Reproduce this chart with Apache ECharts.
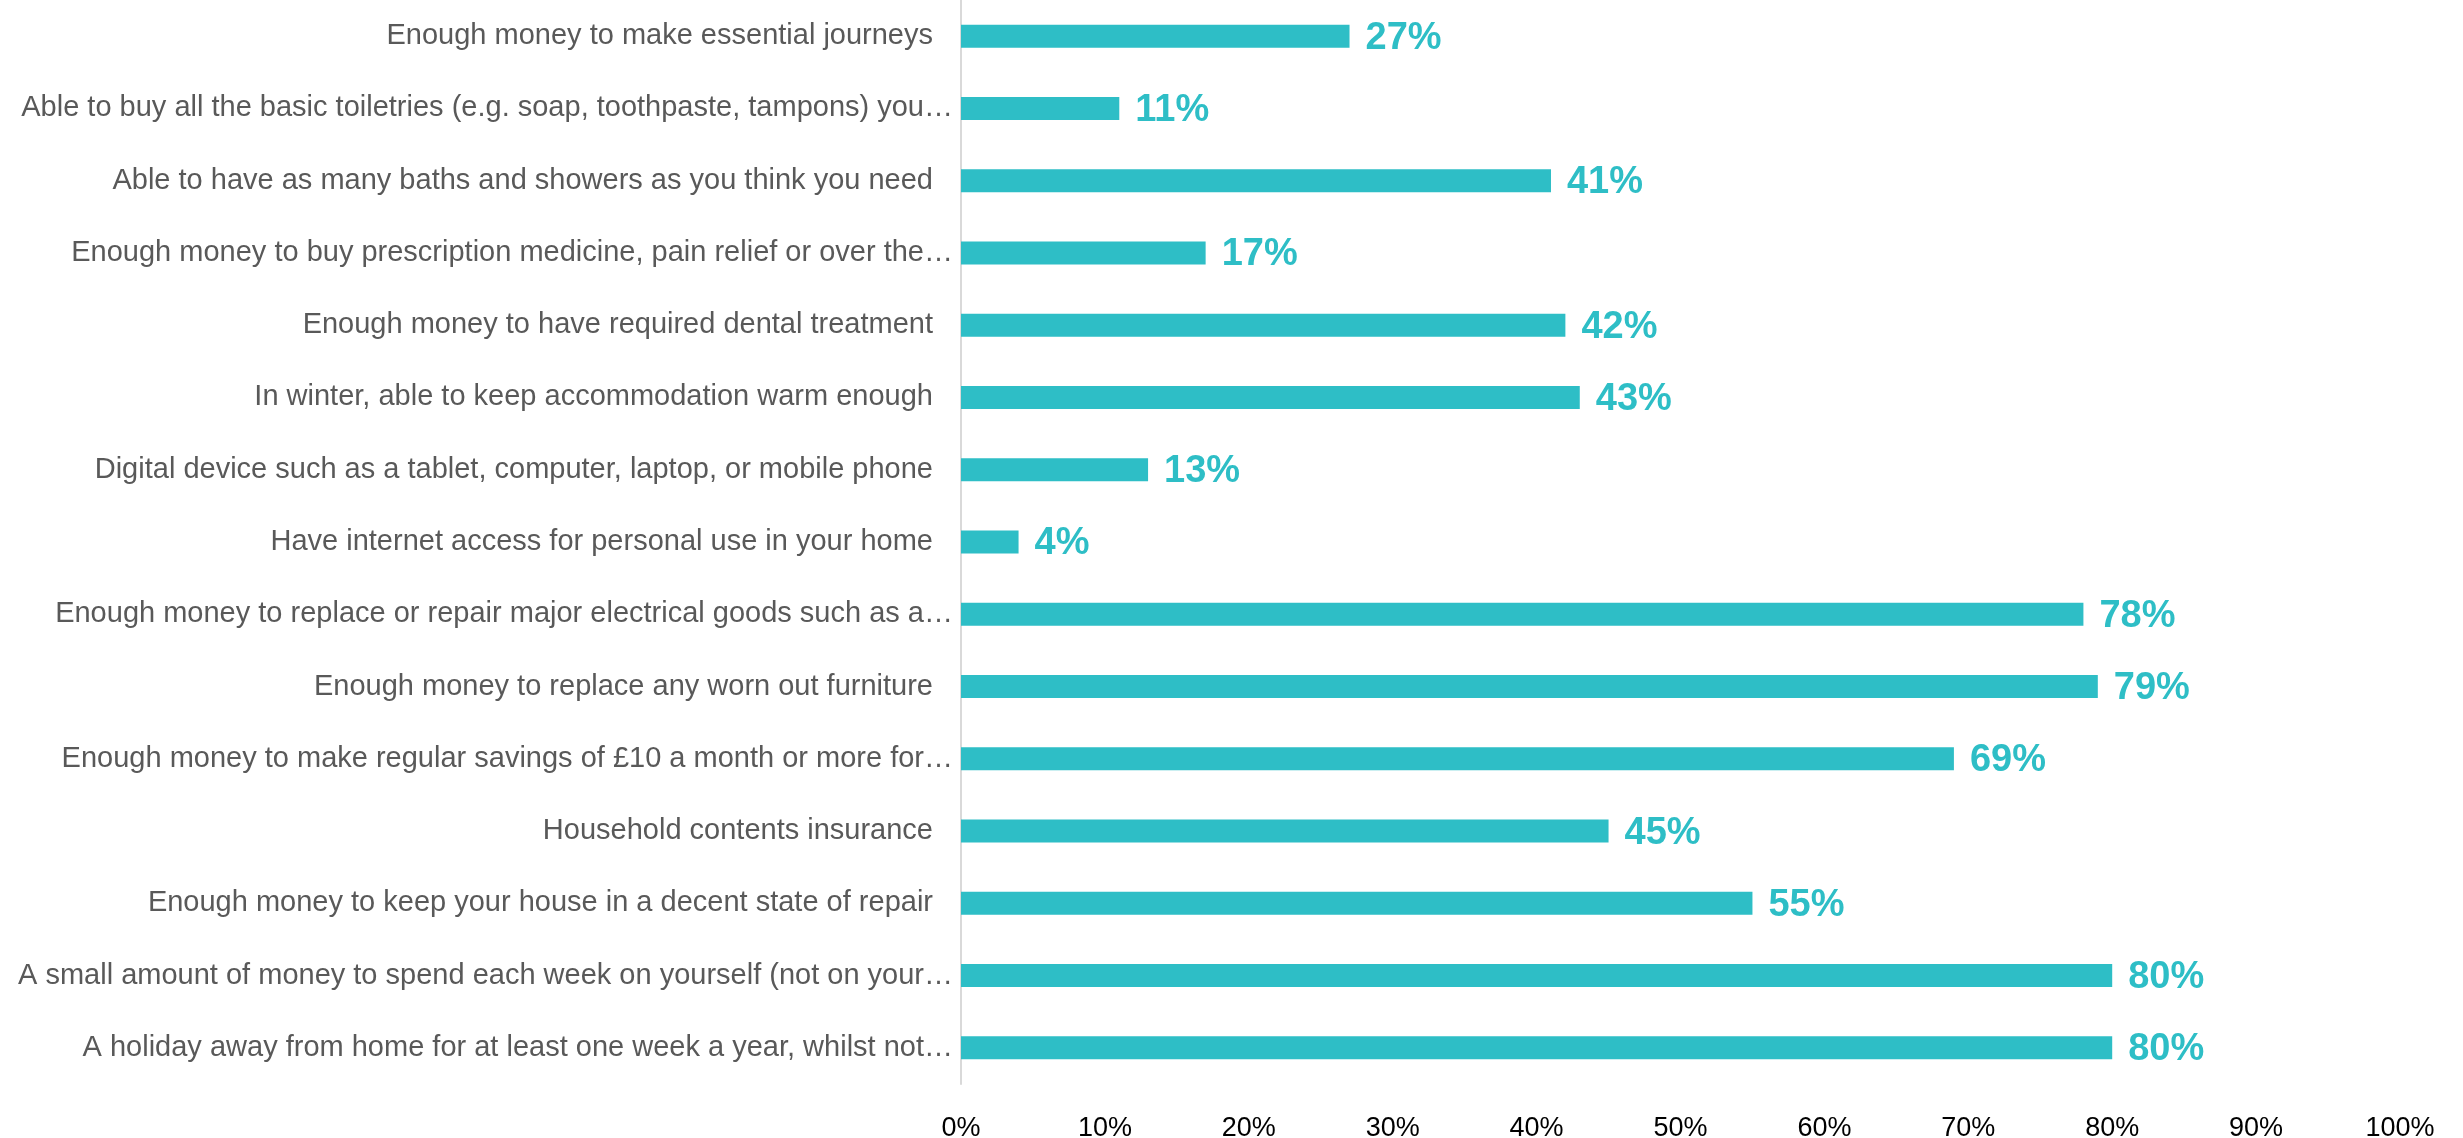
<!DOCTYPE html>
<html>
<head>
<meta charset="utf-8">
<script src="https://cdn.jsdelivr.net/npm/echarts@6/dist/echarts.min.js"></script>
<style>
  html, body { margin: 0; padding: 0; background: #ffffff; }
  #chart { width: 2463px; height: 1138px; }
</style>
</head>
<body>
<div id="chart"></div>
<script>
// Items listed top to bottom
const categories = [
  'Enough money to make essential journeys',
  'Able to buy all the basic toiletries (e.g. soap, toothpaste, tampons) you…',
  'Able to have as many baths and showers as you think you need',
  'Enough money to buy prescription medicine, pain relief or over the…',
  'Enough money to have required dental treatment',
  'In winter, able to keep accommodation warm enough',
  'Digital device such as a tablet, computer, laptop, or mobile phone',
  'Have internet access for personal use in your home',
  'Enough money to replace or repair major electrical goods such as a…',
  'Enough money to replace any worn out furniture',
  'Enough money to make regular savings of £10 a month or more for…',
  'Household contents insurance',
  'Enough money to keep your house in a decent state of repair',
  'A small amount of money to spend each week on yourself (not on your…',
  'A holiday away from home for at least one week a year, whilst not…'
];

// Share (%) for each item
const values = [27, 11, 41, 17, 42, 43, 13, 4, 78, 79, 69, 45, 55, 80, 80];

// Value axis ticks
const axisMin = 0;
const axisMax = 100;
const axisStep = 10;

const TEAL = '#2EBEC6';
const FONT = '"Liberation Sans", Arial, sans-serif';

const chart = echarts.init(document.getElementById('chart'), null, { renderer: 'canvas' });

chart.setOption({
  backgroundColor: '#ffffff',
  animation: false,
  grid: { left: 961, right: 63, top: 0, bottom: 54, containLabel: false, outerBoundsMode: 'none' },
  xAxis: {
    type: 'value',
    min: axisMin,
    max: axisMax,
    interval: axisStep,
    axisLine: { show: false },
    axisTick: { show: false },
    splitLine: { show: false },
    axisLabel: {
      formatter: v => v + '%',
      color: '#000000',
      fontFamily: FONT,
      fontSize: 27,
      margin: 31
    }
  },
  yAxis: {
    type: 'category',
    data: categories,
    inverse: true,
    axisLine: { show: true, lineStyle: { color: '#D9D9D9', width: 2 } },
    axisTick: { show: false },
    axisLabel: {
      color: '#595959',
      fontFamily: FONT,
      fontSize: 29,
      margin: 8,
      formatter: v => v.endsWith('…') ? v : '{p|' + v + '}',
      rich: {
        p: { color: '#595959', fontFamily: FONT, fontSize: 29, padding: [0, 20, 0, 0] }
      }
    }
  },
  series: [{
    type: 'bar',
    data: values,
    barWidth: 23,
    itemStyle: { color: TEAL },
    label: {
      show: true,
      position: 'right',
      distance: 16,
      offset: [0, 2],
      formatter: p => p.value + '%',
      color: TEAL,
      fontFamily: FONT,
      fontWeight: 'bold',
      fontSize: 38
    }
  }]
});
</script>
</body>
</html>
